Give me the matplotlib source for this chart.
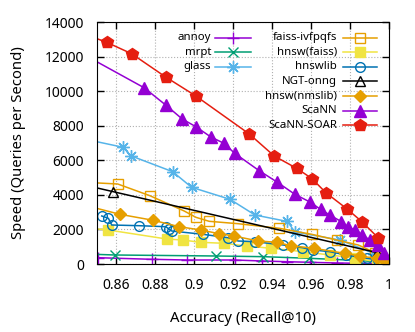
import matplotlib.pyplot as plt
import numpy as np
from matplotlib.lines import Line2D
from matplotlib.ticker import FormatStrFormatter

plt.rcParams['font.family'] = ['Noto Sans', 'DejaVu Sans']
plt.rcParams['font.size'] = 10
plt.rcParams['xtick.direction'] = 'in'
plt.rcParams['ytick.direction'] = 'in'
plt.rcParams['xtick.top'] = True
plt.rcParams['ytick.right'] = True

# recall@10, queries per second (points left of 0.85 are clipped like the original)
annoy_x = [0.8508, 0.8782, 0.8962, 0.9209, 0.9346, 0.9474, 0.9594, 0.9731, 0.985, 0.9953]
annoy_y = [364, 272, 231, 231, 174, 133, 98, 58, 40, 29]

mrpt_x = [0.845, 0.8594, 0.9112, 0.9354, 0.9590, 0.985, 0.997]
mrpt_y = [575, 521, 463, 424, 330, 200, 100]

glass_x = [0.845, 0.8636, 0.8674, 0.8890, 0.8987, 0.9184, 0.9312, 0.9479, 0.9517, 0.9748, 0.9925]
glass_y = [7196, 6751, 6265, 5339, 4437, 3743, 2835, 2459, 1851, 1388, 600]

ivfpqfs_x = [0.845, 0.8608, 0.8773, 0.8949, 0.9009, 0.9077, 0.9226, 0.9437, 0.9603, 0.9731, 0.9842, 0.9930]
ivfpqfs_y = [4720, 4628, 3951, 3066, 2702, 2470, 2331, 2065, 1718, 1388, 1100, 650]

hnswfaiss_x = [0.845, 0.8560, 0.8859, 0.8941, 0.9033, 0.9153, 0.9269, 0.9397, 0.9559, 0.9696, 0.9825, 0.9936, 0.9987]
hnswfaiss_y = [2080, 1967, 1446, 1388, 1255, 1197, 1041, 908, 712, 521, 347, 133, 58]

hnswlib_x = [0.8526, 0.8560, 0.8577, 0.8718, 0.8855, 0.8872, 0.8885, 0.9044, 0.9175, 0.9226,
             0.9312, 0.9457, 0.9556, 0.9611, 0.9696, 0.9779, 0.9885, 0.9944]
hnswlib_y = [2777, 2644, 2256, 2216, 2158, 2007, 1909, 1718, 1521, 1331,
             1290, 1099, 943, 810, 712, 521, 330, 231]

ngt_x = [0.845, 0.8585, 0.9936]
ngt_y = [4535, 4183, 665]
ngt_marked = [1, 2]

nmslib_x = [0.845, 0.8619, 0.8790, 0.8924, 0.9033, 0.9129, 0.9204, 0.9329, 0.9426, 0.9495,
            0.9614, 0.9773, 0.9850, 0.9936, 0.9987]
nmslib_y = [3367, 2875, 2528, 2158, 1967, 1753, 1620, 1331, 1255, 1059,
            908, 619, 463, 330, 133]

scann_x = [0.845, 0.8743, 0.8854, 0.8939, 0.9009, 0.9086, 0.9153, 0.9208, 0.9334, 0.9425, 0.9517,
           0.9594, 0.9650, 0.9696, 0.9756, 0.9790, 0.9824, 0.9864, 0.9901, 0.9944, 0.9973]
scann_y = [12016, 10199, 9198, 8388, 7943, 7347, 6983, 6404, 5396, 4744, 4032,
           3587, 3153, 2835, 2447, 2140, 1967, 1678, 1388, 1099, 619]

soar_x = [0.845, 0.8551, 0.8679, 0.8854, 0.9009, 0.9283, 0.9411, 0.9526, 0.9604, 0.9676, 0.9785, 0.9861, 0.9944]
soar_y = [13250, 12826, 12166, 10818, 9719, 7521, 6248, 5536, 4946, 4125, 3182, 2447, 1521]

W, H = 415, 332
fig = plt.figure(figsize=(W / 100, H / 100), dpi=100)
ax = fig.add_axes([96.7 / W, 68 / H, 292.3 / W, 242 / H])

purple = '#9400d3'
green = '#009e73'
lblue = '#56b4e9'
orange = '#e69f00'
yellow = '#f0e442'
blue = '#0072b2'
red = '#e51e10'

lw = 1.1
styles = [
    ('annoy', annoy_x, annoy_y, dict(color=purple, marker='+', ms=8, mew=1)),
    ('mrpt', mrpt_x, mrpt_y, dict(color=green, marker='x', ms=7, mew=1)),
    ('glass', glass_x, glass_y, dict(color=lblue, marker=(8, 2, 0), ms=9, mew=1)),
    ('faiss-ivfpqfs', ivfpqfs_x, ivfpqfs_y, dict(color=orange, marker='s', ms=7, mfc='none', mew=1)),
    ('hnsw(faiss)', hnswfaiss_x, hnswfaiss_y, dict(color=yellow, marker='s', ms=7)),
    ('hnswlib', hnswlib_x, hnswlib_y, dict(color=blue, marker='o', ms=7, mfc='none', mew=1)),
    ('NGT-onng', ngt_x, ngt_y, dict(color='black', marker='^', ms=7, mfc='none', mew=1)),
    ('hnsw(nmslib)', nmslib_x, nmslib_y, dict(color=orange, marker='D', ms=6)),
    ('ScaNN', scann_x, scann_y, dict(color=purple, marker='^', ms=8)),
    ('ScaNN-SOAR', soar_x, soar_y, dict(color=red, marker='p', ms=9)),
]

for name, xs, ys, st in styles:
    every = ngt_marked if name == 'NGT-onng' else None
    ax.plot(xs, ys, lw=lw, markevery=every, **st)

ax.set_xlim(0.85, 1.0)
ax.set_ylim(0, 14000)
ax.set_xticks(np.arange(0.86, 1.001, 0.02))
ax.set_yticks(np.arange(0, 14001, 2000))
ax.xaxis.set_major_formatter(FormatStrFormatter('%g'))
ax.tick_params(length=5, width=1, pad=9)
ax.tick_params(axis='x', pad=10)
ax.grid(True, color='#b0b0b0', ls=':', lw=0.8)
ax.set_axisbelow(True)

ax.set_xlabel('Accuracy (Recall@10)', fontsize=10.7)
ax.set_ylabel('Speed (Queries per Second)', fontsize=10.7)
ax.xaxis.set_label_coords(0.5, (264 - 318) / 242)
ax.xaxis.label.set_verticalalignment('center')
ax.yaxis.set_label_coords((19 - 96.7) / 292.3, 0.5)
ax.yaxis.label.set_verticalalignment('center')

# gnuplot-style key: two columns, text right-aligned, sample on the right
def key_entry(row, col, name, st):
    text_right, line_l, line_r = [(211, 215, 251), (337, 342.7, 376.7)][col]
    y = 1 - (37.5 + 14.65 * row) / H
    fig.text(text_right / W, y, name, ha='right', va='center', fontsize=8.2)
    xm = (line_l + line_r) / 2
    fig.add_artist(Line2D([line_l / W, xm / W, line_r / W], [y, y, y], lw=lw,
                          markevery=[1], transform=fig.transFigure, **st))

for i, (name, xs, ys, st) in enumerate(styles):
    if i < 3:
        key_entry(i, 0, name, st)
    else:
        key_entry(i - 3, 1, name, st)

plt.savefig('out.png', dpi=100)
